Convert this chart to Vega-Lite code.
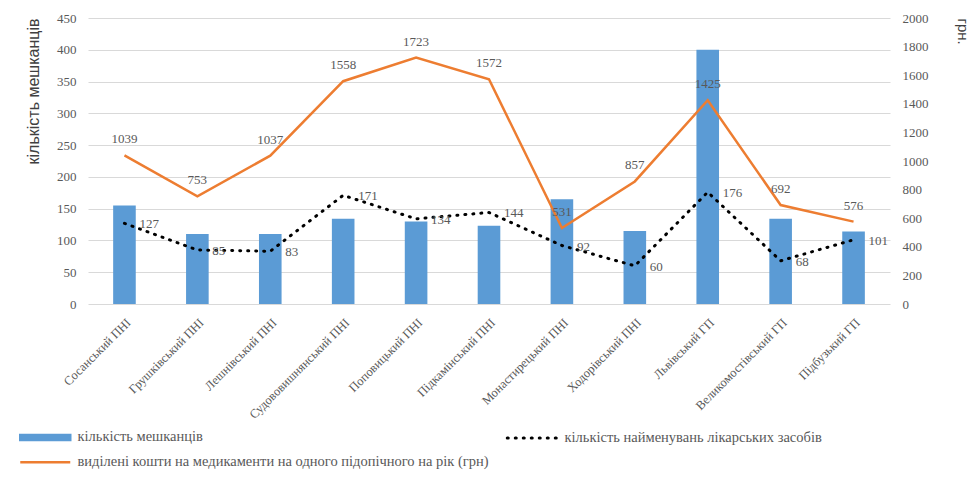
{
  "$schema": "https://vega.github.io/schema/vega-lite/v6.json",
  "width": 802,
  "height": 286,
  "autosize": {"type": "none"},
  "padding": {"left": 88, "top": 18, "right": 88, "bottom": 182},
  "background": "white",
  "config": {
    "view": {"stroke": null},
    "font": "Liberation Serif",
    "axis": {"labelFont": "Liberation Serif", "labelColor": "#595959", "titleColor": "#404040", "titleFont": "Liberation Sans", "titleFontWeight": "normal", "labelOverlap": false, "labelFlush": false},
    "legend": {"labelFont": "Liberation Serif"}
  },
  "data": {
    "values": [
      {"name": "Сосанський ПНІ", "residents": 155, "drugs": 127, "funds": 1039},
      {"name": "Грушківський ПНІ", "residents": 110, "drugs": 85, "funds": 753},
      {"name": "Лешнівський ПНІ", "residents": 110, "drugs": 83, "funds": 1037},
      {"name": "Судововишнянський ПНІ", "residents": 134, "drugs": 171, "funds": 1558},
      {"name": "Поповицький ПНІ", "residents": 130, "drugs": 134, "funds": 1723},
      {"name": "Підкамінський ПНІ", "residents": 123, "drugs": 144, "funds": 1572},
      {"name": "Монастирецький ПНІ", "residents": 165, "drugs": 92, "funds": 531},
      {"name": "Ходорівський ПНІ", "residents": 115, "drugs": 60, "funds": 857},
      {"name": "Львівський ГП", "residents": 400, "drugs": 176, "funds": 1425},
      {"name": "Великомостівський ГП", "residents": 134, "drugs": 68, "funds": 692},
      {"name": "Підбузький ГП", "residents": 114, "drugs": 101, "funds": 576}
    ]
  },
  "encoding": {
    "x": {
      "field": "name", "type": "nominal", "sort": null,
      "scale": {"paddingInner": 0.69, "paddingOuter": 0.345},
      "axis": {"title": null, "labelAngle": -45, "domain": false, "ticks": false, "labelFont": "Liberation Serif", "labelFontSize": 12.5, "labelPadding": 12, "labelLimit": 0}
    }
  },
  "layer": [
    {
      "layer": [
        {
          "mark": {"type": "bar"},
          "encoding": {
            "y": {
              "field": "residents", "type": "quantitative",
              "scale": {"domain": [0, 450]},
              "axis": {
                "title": "кількість мешканців", "titleFontSize": 16, "titleAnchor": "end", "titlePadding": 15,
                "values": [0, 50, 100, 150, 200, 250, 300, 350, 400, 450],
                "grid": true, "gridColor": "#d9d9d9", "domain": false, "ticks": false,
                "labelFont": "Liberation Serif", "labelFontSize": 13, "labelPadding": 12, "format": "d"
              }
            },
            "color": {
              "datum": "кількість мешканців", "type": "nominal",
              "scale": {
                "domain": ["кількість мешканців", "виділені кошти на медикаменти на одного підопічного на рік (грн)", "кількість найменувань лікарських засобів"],
                "range": ["#5B9BD5", "#ED7D31", "#000000"]
              },
              "legend": {
                "orient": "none", "legendX": -50, "legendY": 412, "columns": 2, "title": null,
                "symbolSize": 625, "labelFont": "Liberation Serif", "labelFontSize": 14.5, "labelColor": "#595959",
                "labelOffset": 25, "labelLimit": 0, "rowPadding": 9, "columnPadding": 12,
                "encode": {
                  "labels": {"update": {"font": {"value": "Liberation Serif"}}},
                  "symbols": {
                    "update": {
                      "shape": {"signal": "datum.value === 'кількість мешканців' ? 'M-2,-0.2H2V0.2H-2Z' : 'M-2,0H2'"},
                      "fill": {"signal": "datum.value === 'кількість мешканців' ? '#5B9BD5' : 'transparent'"},
                      "stroke": {"signal": "datum.value === 'кількість мешканців' ? 'transparent' : (datum.value === 'кількість найменувань лікарських засобів' ? '#000000' : '#ED7D31')"},
                      "strokeWidth": {"signal": "datum.value === 'кількість найменувань лікарських засобів' ? 3 : 2.5"},
                      "strokeDash": {"signal": "datum.value === 'кількість найменувань лікарських засобів' ? [1, 7] : []"},
                      "strokeCap": {"signal": "datum.value === 'кількість найменувань лікарських засобів' ? 'round' : 'butt'"},
                      "opacity": {"value": 1}
                    }
                  }
                }
              }
            }
          }
        },
        {
          "mark": {"type": "line", "strokeWidth": 3, "strokeDash": [1, 7], "strokeCap": "round"},
          "encoding": {
            "y": {
              "field": "drugs", "type": "quantitative",
              "axis": {
                "title": "кількість мешканців", "titleFontSize": 16, "titleAnchor": "end", "titlePadding": 15,
                "values": [0, 50, 100, 150, 200, 250, 300, 350, 400, 450],
                "grid": true, "gridColor": "#d9d9d9", "domain": false, "ticks": false,
                "labelFont": "Liberation Serif", "labelFontSize": 13, "labelPadding": 12, "format": "d"
              }
            },
            "color": {"datum": "кількість найменувань лікарських засобів", "type": "nominal"}
          }
        },
        {
          "mark": {"type": "text", "align": "left", "baseline": "middle", "dx": 15, "dy": 1, "font": "Liberation Serif", "fontSize": 13, "color": "#595959"},
          "encoding": {
            "y": {
              "field": "drugs", "type": "quantitative",
              "axis": {
                "title": "кількість мешканців", "titleFontSize": 16, "titleAnchor": "end", "titlePadding": 15,
                "values": [0, 50, 100, 150, 200, 250, 300, 350, 400, 450],
                "grid": true, "gridColor": "#d9d9d9", "domain": false, "ticks": false,
                "labelFont": "Liberation Serif", "labelFontSize": 13, "labelPadding": 12, "format": "d"
              }
            },
            "text": {"field": "drugs", "type": "quantitative"}
          }
        }
      ]
    },
    {
      "layer": [
        {
          "mark": {"type": "line", "strokeWidth": 2.5},
          "encoding": {
            "y": {
              "field": "funds", "type": "quantitative",
              "scale": {"domain": [0, 2000]},
              "axis": {
                "orient": "right", "title": "грн.", "titleFontSize": 15, "titleAnchor": "end", "titleAngle": 90, "titleAlign": "left", "titlePadding": 26,
                "values": [0, 200, 400, 600, 800, 1000, 1200, 1400, 1600, 1800, 2000],
                "grid": false, "domain": false, "ticks": false, "labelFont": "Liberation Serif", "labelFontSize": 13, "labelPadding": 12, "format": "d"
              }
            },
            "color": {"datum": "виділені кошти на медикаменти на одного підопічного на рік (грн)", "type": "nominal"}
          }
        },
        {
          "mark": {"type": "text", "align": "center", "baseline": "middle", "dy": -16, "font": "Liberation Serif", "fontSize": 13, "color": "#595959"},
          "encoding": {
            "y": {
              "field": "funds", "type": "quantitative",
              "axis": {
                "orient": "right", "title": "грн.", "titleFontSize": 15, "titleAnchor": "end", "titleAngle": 90, "titleAlign": "left", "titlePadding": 26,
                "values": [0, 200, 400, 600, 800, 1000, 1200, 1400, 1600, 1800, 2000],
                "grid": false, "domain": false, "ticks": false, "labelFont": "Liberation Serif", "labelFontSize": 13, "labelPadding": 12, "format": "d"
              }
            },
            "text": {"field": "funds", "type": "quantitative"}
          }
        }
      ]
    }
  ],
  "resolve": {"scale": {"y": "independent"}}
}
